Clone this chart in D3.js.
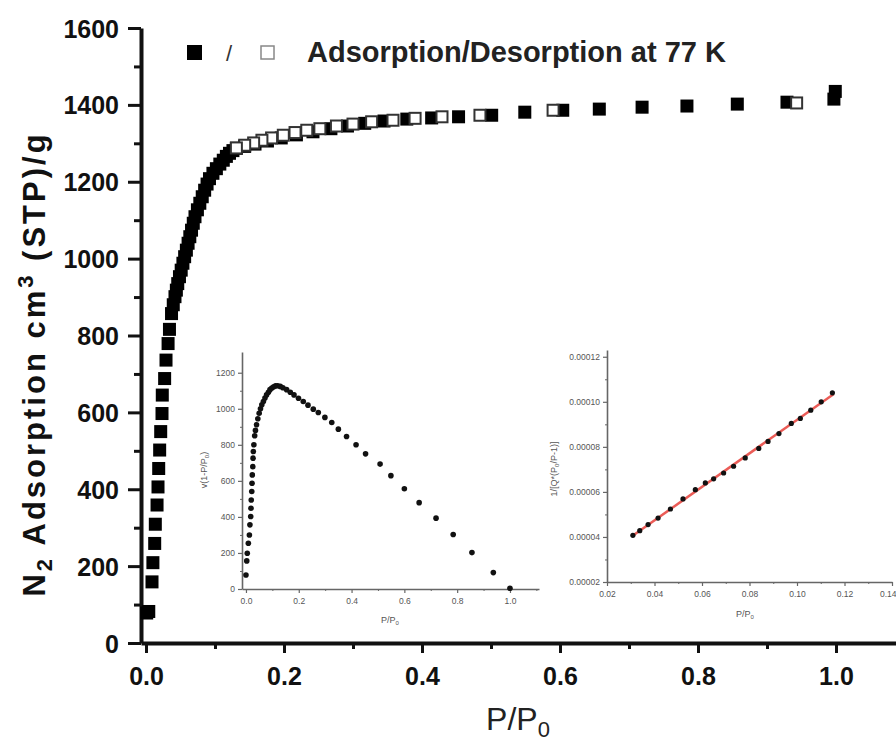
<!DOCTYPE html>
<html>
<head>
<meta charset="utf-8">
<script src="https://cdn.jsdelivr.net/npm/d3@7"></script>
<style>
  body { margin: 0; background: #fff; }
  svg { font-family: "Liberation Sans", Arial, sans-serif; }
  .main .tick text { font-weight: bold; font-size: 25px; fill: #111; }
  .inset .tick text { font-size: 8.5px; fill: #555; }
</style>
</head>
<body>
<script>
// adsorption branch (filled squares)
var adsX = [0.001, 0.004, 0.0087, 0.010, 0.0126, 0.0135, 0.016, 0.0174, 0.0184, 0.0198, 0.0213, 0.0232, 0.0236,
  0.027, 0.029, 0.032, 0.034, 0.037, 0.0395, 0.042, 0.044, 0.046, 0.0485, 0.051, 0.0535, 0.056, 0.0585, 0.061,
  0.0635, 0.066, 0.0685, 0.071, 0.0745, 0.078, 0.0815, 0.085, 0.0885, 0.092, 0.097, 0.102, 0.107, 0.112, 0.1165,
  0.121, 0.126, 0.131, 0.143, 0.158, 0.176, 0.196, 0.218, 0.242, 0.268, 0.292, 0.317, 0.345, 0.378, 0.414, 0.453,
  0.501, 0.549, 0.604, 0.657, 0.719, 0.784, 0.857, 0.929, 0.997, 0.999]
var adsY = [78, 82, 159, 209, 259, 309, 359, 406, 454, 502, 550, 597, 645,
  688, 736, 779, 816, 857, 880, 901, 918, 935, 953, 970, 988, 1005, 1022, 1040,
  1057, 1074, 1092, 1109, 1127, 1144, 1161, 1178, 1194, 1208, 1222, 1234, 1246, 1256, 1266,
  1274, 1281, 1287, 1292, 1298, 1306, 1314, 1322, 1330, 1338, 1345, 1352, 1358, 1363, 1366, 1369,
  1373, 1381, 1386, 1389, 1394, 1397, 1402, 1407, 1415, 1435]
// desorption branch (open squares)
var desX = [0.943, 0.590, 0.484, 0.429, 0.390, 0.358, 0.327, 0.300, 0.276, 0.252, 0.233, 0.216, 0.199, 0.182, 0.168, 0.156, 0.143, 0.131]
var desY = [1405, 1386, 1373, 1369, 1365, 1360, 1356, 1350, 1345, 1338, 1334, 1328, 1321, 1314, 1308, 1301, 1295, 1288]

// inset 1: v(1-P/P0) vs P/P0
var rX = [0.0, 0.003, 0.005, 0.009, 0.013, 0.015, 0.018, 0.019, 0.020, 0.022, 0.023, 0.024, 0.026, 0.027, 0.028, 0.030,
  0.033, 0.036, 0.040, 0.045, 0.050, 0.055, 0.060, 0.066, 0.072, 0.078, 0.085, 0.091, 0.098, 0.105, 0.112, 0.120,
  0.130, 0.140, 0.154, 0.168, 0.182, 0.199, 0.217, 0.235, 0.255, 0.274, 0.299, 0.325, 0.350, 0.381, 0.417, 0.453,
  0.508, 0.549, 0.600, 0.656, 0.720, 0.785, 0.856, 0.937, 1.0]
var rY = [78, 156, 198, 254, 300, 356, 402, 448, 494, 541, 587, 633, 679, 726, 763, 800,
  850, 880, 911, 945, 975, 1000, 1022, 1040, 1060, 1077, 1092, 1106, 1115, 1122, 1127, 1128,
  1124, 1117, 1106, 1092, 1077, 1058, 1040, 1020, 998, 979, 952, 924, 887, 846, 800, 750,
  693, 629, 556, 479, 393, 302, 202, 91, 4]

// inset 2: BET plot
var betX = [0.0309, 0.0338, 0.0373, 0.0415, 0.0467, 0.0520, 0.0572, 0.0614, 0.0649, 0.0691, 0.0733, 0.0782, 0.0839, 0.0878, 0.0924, 0.0976, 0.1014, 0.1058, 0.1102, 0.1149]
var betY = [4.07e-5, 4.28e-5, 4.55e-5, 4.84e-5, 5.24e-5, 5.69e-5, 6.10e-5, 6.40e-5, 6.58e-5, 6.84e-5, 7.14e-5, 7.51e-5, 7.93e-5, 8.24e-5, 8.59e-5, 9.04e-5, 9.26e-5, 9.63e-5, 1.0e-4, 1.04e-4]
var fitX = [0.0305, 0.1155]
var fitY = [4.03e-5, 1.035e-4]

var mainXTicks = [0, 0.2, 0.4, 0.6, 0.8, 1.0]
var mainYTicks = [0, 200, 400, 600, 800, 1000, 1200, 1400, 1600]
var r1XTicks = [0, 0.2, 0.4, 0.6, 0.8, 1.0]
var r1YTicks = [0, 200, 400, 600, 800, 1000, 1200]
var betXTicks = [0.02, 0.04, 0.06, 0.08, 0.10, 0.12, 0.14]
var betYTicks = [0.00002, 0.00004, 0.00006, 0.00008, 0.00010, 0.00012]

var svg = d3.select("body").append("svg")
  .attr("width", 896)
  .attr("height", 743)

// ---------- main plot ----------
var x = d3.scaleLinear().domain([-0.00725, 1.087]).range([141, 896])
var y = d3.scaleLinear().domain([0, 1600]).range([643, 28])

var gMain = svg.append("g").attr("class", "main")

// minor ticks first
gMain.append("g")
  .attr("transform", "translate(0,643)")
  .call(d3.axisBottom(x).tickValues([0.1, 0.3, 0.5, 0.7, 0.9]).tickSize(6).tickFormat(""))
  .call(g => g.select(".domain").remove())
  .selectAll("line").attr("stroke", "#111").attr("stroke-width", 3)
gMain.append("g")
  .attr("transform", "translate(141,0)")
  .call(d3.axisLeft(y).tickValues(d3.range(100, 1600, 200)).tickSize(7).tickFormat(""))
  .call(g => g.select(".domain").remove())
  .selectAll("line").attr("stroke", "#111").attr("stroke-width", 3)

var xAx = gMain.append("g")
  .attr("transform", "translate(0,643)")
  .call(d3.axisBottom(x).tickValues(mainXTicks).tickSize(10).tickSizeOuter(0).tickPadding(14).tickFormat(d3.format(".1f")))
xAx.select(".domain").attr("stroke", "#111").attr("stroke-width", 4)
xAx.selectAll(".tick line").attr("stroke", "#111").attr("stroke-width", 3)

var yAx = gMain.append("g")
  .attr("transform", "translate(141,0)")
  .call(d3.axisLeft(y).tickValues(mainYTicks).tickSize(13).tickSizeOuter(0).tickPadding(9).tickFormat(d3.format("d")))
yAx.select(".domain").attr("stroke", "#111").attr("stroke-width", 4)
yAx.selectAll(".tick line").attr("stroke", "#111").attr("stroke-width", 3)
yAx.selectAll(".tick text").attr("dy", "0.36em")

var sq = 13
gMain.append("g").selectAll("rect")
  .data(adsX.map((d, i) => [d, adsY[i]]))
  .enter().append("rect")
  .attr("x", d => x(d[0]) - sq / 2)
  .attr("y", d => y(d[1]) - sq / 2)
  .attr("width", sq).attr("height", sq)
  .attr("fill", "#000")
gMain.append("g").selectAll("rect")
  .data(desX.map((d, i) => [d, desY[i]]))
  .enter().append("rect")
  .attr("x", d => x(d[0]) - (sq - 2) / 2)
  .attr("y", d => y(d[1]) - (sq - 2) / 2)
  .attr("width", sq - 2).attr("height", sq - 2)
  .attr("fill", "#fff").attr("stroke", "#333").attr("stroke-width", 2)

// axis titles
var yl = svg.append("text")
  .attr("transform", "translate(45,364) rotate(-90)")
  .attr("text-anchor", "middle")
  .attr("font-weight", "bold").attr("font-size", 31).attr("letter-spacing", 3).attr("fill", "#111")
yl.append("tspan").text("N")
yl.append("tspan").attr("font-size", 22).attr("dy", 7).text("2")
yl.append("tspan").attr("dy", -7).text(" Adsorption cm")
yl.append("tspan").attr("font-size", 22).attr("dy", -12).text("3")
yl.append("tspan").attr("dy", 12).text(" (STP)/g")

var xl = svg.append("text")
  .attr("x", 518).attr("y", 730)
  .attr("text-anchor", "middle")
  .attr("font-size", 32).attr("fill", "#222")
xl.append("tspan").text("P/P")
xl.append("tspan").attr("font-size", 22).attr("dy", 7).text("0")

// legend
svg.append("rect").attr("x", 187).attr("y", 45).attr("width", 15).attr("height", 15).attr("fill", "#000")
svg.append("text").attr("x", 229).attr("y", 61).attr("text-anchor", "middle")
  .attr("font-size", 22).attr("fill", "#333").text("/")
svg.append("rect").attr("x", 261).attr("y", 46).attr("width", 13).attr("height", 13)
  .attr("fill", "#fff").attr("stroke", "#888").attr("stroke-width", 1.5)
svg.append("text").attr("x", 307).attr("y", 62)
  .attr("font-weight", "bold").attr("font-size", 29).attr("fill", "#222")
  .text("Adsorption/Desorption at 77 K")

// ---------- inset axes helper ----------
function insetAxes(g, sx, sy, xTicks, xMinor, yTicks, yMinor, xFmt, yFmt) {
  var y0 = sy.range()[0], x0 = sx.range()[0]
  g.append("g").attr("transform", "translate(0," + y0 + ")")
    .call(d3.axisBottom(sx).tickValues(xMinor).tickSize(2).tickFormat(""))
    .call(a => a.select(".domain").remove())
    .selectAll("line").attr("stroke", "#666")
  g.append("g").attr("transform", "translate(" + x0 + ",0)")
    .call(d3.axisLeft(sy).tickValues(yMinor).tickSize(2).tickFormat(""))
    .call(a => a.select(".domain").remove())
    .selectAll("line").attr("stroke", "#666")
  var ax = g.append("g").attr("transform", "translate(0," + y0 + ")")
    .call(d3.axisBottom(sx).tickValues(xTicks).tickSize(4).tickSizeOuter(0).tickPadding(5).tickFormat(xFmt))
  var ay = g.append("g").attr("transform", "translate(" + x0 + ",0)")
    .call(d3.axisLeft(sy).tickValues(yTicks).tickSize(4).tickSizeOuter(0).tickPadding(3).tickFormat(yFmt))
  ;[ax, ay].forEach(a => {
    a.select(".domain").attr("stroke", "#666").attr("stroke-width", 1.6)
    a.selectAll(".tick line").attr("stroke", "#666").attr("stroke-width", 1.2)
  })
  return ax
}

// ---------- inset 1 ----------
var ix = d3.scaleLinear().domain([-0.015, 1.11]).range([242, 539])
var iy = d3.scaleLinear().domain([0, 1315]).range([589, 352])
var g1 = svg.append("g").attr("class", "inset")
insetAxes(g1, ix, iy, r1XTicks, [0.1, 0.3, 0.5, 0.7, 0.9, 1.1], r1YTicks, d3.range(100, 1300, 200),
  d3.format(".1f"), d3.format("d"))
g1.append("g").selectAll("circle")
  .data(rX.map((d, i) => [d, rY[i]]))
  .enter().append("circle")
  .attr("cx", d => ix(d[0])).attr("cy", d => iy(d[1]))
  .attr("r", 2.8).attr("fill", "#111")
var t1 = g1.append("text").attr("transform", "translate(207,470) rotate(-90)")
  .attr("text-anchor", "middle").attr("font-size", 9).attr("fill", "#555")
t1.append("tspan").text("v(1-P/P")
t1.append("tspan").attr("font-size", 6).attr("dy", 2).text("0")
t1.append("tspan").attr("dy", -2).text(")")
var x1 = g1.append("text").attr("x", 390).attr("y", 623)
  .attr("text-anchor", "middle").attr("font-size", 9).attr("fill", "#555")
x1.append("tspan").text("P/P")
x1.append("tspan").attr("font-size", 6).attr("dy", 2).text("0")

// ---------- inset 2 ----------
var bx = d3.scaleLinear().domain([0.02, 0.14]).range([607, 892])
var by = d3.scaleLinear().domain([0.00002, 0.000123]).range([582, 350])
var g2 = svg.append("g").attr("class", "inset")
var bAx = insetAxes(g2, bx, by, betXTicks, d3.range(0.03, 0.14, 0.02), betYTicks, [0.00003, 0.00005, 0.00007, 0.00009, 0.00011],
  d3.format(".2f"), d3.format(".5f"))
// last label sits at the window edge; keep it inside
bAx.selectAll(".tick text").filter(d => d === 0.14).attr("text-anchor", "end").attr("dx", 4)
g2.append("line")
  .attr("x1", bx(fitX[0])).attr("y1", by(fitY[0]))
  .attr("x2", bx(fitX[1])).attr("y2", by(fitY[1]))
  .attr("stroke", "#e8403a").attr("stroke-width", 2.5).attr("opacity", 0.85)
g2.append("g").selectAll("circle")
  .data(betX.map((d, i) => [d, betY[i]]))
  .enter().append("circle")
  .attr("cx", d => bx(d[0])).attr("cy", d => by(d[1]))
  .attr("r", 2.6).attr("fill", "#111")
var t2 = g2.append("text").attr("transform", "translate(557,469) rotate(-90)")
  .attr("text-anchor", "middle").attr("font-size", 9).attr("fill", "#555")
t2.append("tspan").text("1/[Q*(P")
t2.append("tspan").attr("font-size", 6).attr("dy", 2).text("0")
t2.append("tspan").attr("dy", -2).text("/P-1)]")
var x2 = g2.append("text").attr("x", 745).attr("y", 617)
  .attr("text-anchor", "middle").attr("font-size", 9).attr("fill", "#555")
x2.append("tspan").text("P/P")
x2.append("tspan").attr("font-size", 6).attr("dy", 2).text("0")
</script>
</body>
</html>
